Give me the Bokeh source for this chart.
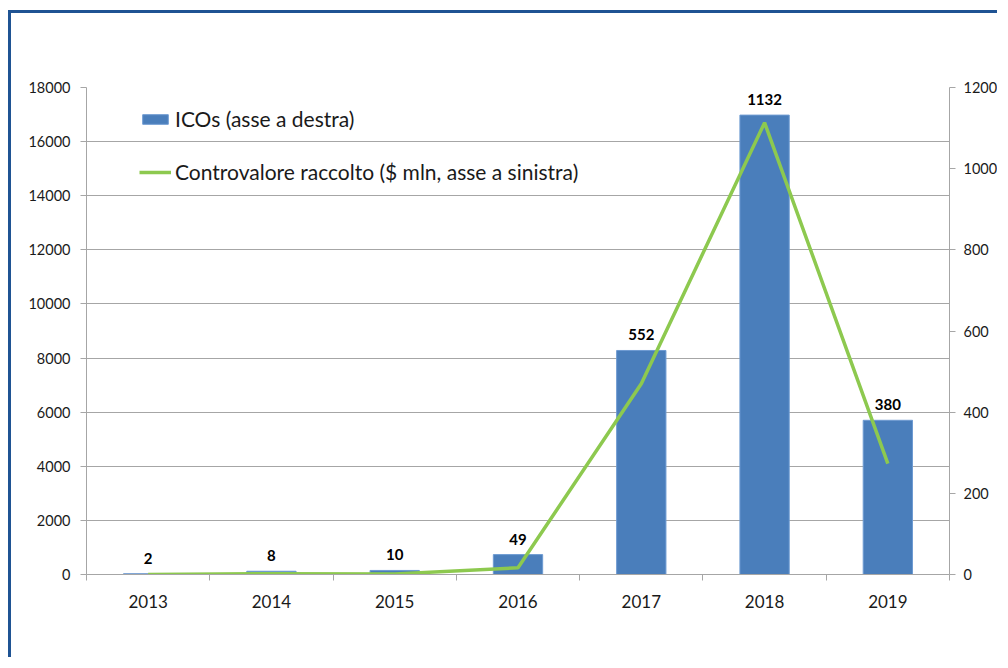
from bokeh.plotting import figure
from bokeh.layouts import column
from bokeh.models import (Range1d, LinearAxis, FixedTicker, Legend, LegendItem,
                          ColumnDataSource)
from bokeh.core.properties import value
from bokeh.embed import file_html
from bokeh.resources import INLINE

years = ["2013", "2014", "2015", "2016", "2017", "2018", "2019"]
icos = [2, 8, 10, 49, 552, 1132, 380]
raised = [0, 30, 20, 250, 7050, 16700, 4100]
left_ticks = [0, 2000, 4000, 6000, 8000, 10000, 12000, 14000, 16000, 18000]
right_ticks = [0, 200, 400, 600, 800, 1000, 1200]

FONT = "Lato"
BLUE = "#4A7EBB"
GREEN = "#8DC94F"
GRAY = "#A6A6A6"

n = len(years)
xs = [i + 0.5 for i in range(n)]
src = ColumnDataSource(dict(x=xs, year=years, icos=icos, raised=raised,
                            lab=[str(v) for v in icos]))

p = figure(width=989, height=647, output_backend="svg", toolbar_location=None,
           x_range=Range1d(0, n), y_range=Range1d(left_ticks[0], left_ticks[-1]),
           min_border_left=75, min_border_right=48, min_border_top=74,
           min_border_bottom=86)
p.styles = {"border-left": "3px solid #1F5393", "border-top": "3px solid #1F5393"}
p.outline_line_color = None
p.background_fill_color = "white"
p.border_fill_color = "white"

p.extra_y_ranges = {"right": Range1d(right_ticks[0], right_ticks[-1])}

# x axis
xax = p.xaxis[0]
xax.ticker = FixedTicker(ticks=xs, minor_ticks=list(range(n + 1)))
xax.major_label_overrides = {x: y for x, y in zip(xs, years)}
xax.major_tick_out = 0
xax.major_tick_in = 0
xax.minor_tick_out = 6
xax.minor_tick_in = 0
xax.minor_tick_line_color = GRAY
xax.axis_line_color = GRAY
xax.major_label_text_font = FONT
xax.major_label_text_font_size = "17px"
xax.major_label_text_color = "#1a1a1a"
xax.major_label_standoff = 14
p.xgrid.visible = False

# left axis
yax = p.yaxis[0]
yax.ticker = FixedTicker(ticks=left_ticks)
yax.major_tick_out = 6
yax.major_tick_in = 0
yax.minor_tick_line_color = None
yax.axis_line_color = GRAY
yax.major_tick_line_color = GRAY
yax.major_label_text_font = FONT
yax.major_label_text_font_size = "14.5px"
yax.major_label_text_color = "#1a1a1a"
yax.major_label_standoff = 10
p.ygrid.ticker = FixedTicker(ticks=left_ticks)
p.ygrid.grid_line_color = GRAY
p.ygrid.grid_line_width = 1

# right axis
rax = LinearAxis(y_range_name="right", ticker=FixedTicker(ticks=right_ticks))
rax.major_tick_out = 6
rax.major_tick_in = 0
rax.minor_tick_line_color = None
rax.axis_line_color = GRAY
rax.major_tick_line_color = GRAY
rax.major_label_text_font = FONT
rax.major_label_text_font_size = "14.5px"
rax.major_label_text_color = "#1a1a1a"
rax.major_label_standoff = 8
p.add_layout(rax, "right")

bars = p.vbar(x="x", top="icos", width=0.4, source=src, y_range_name="right",
              fill_color=BLUE, line_color="#6E9BD2", line_width=1)
ln = p.line(x="x", y="raised", source=src, line_color=GREEN, line_width=3.5)

p.text(x="x", y="icos", text="lab", source=src, y_range_name="right",
       text_align="center", text_baseline="bottom", y_offset=-10,
       text_font=value(FONT), text_font_style="bold", text_font_size="15px",
       text_color="black")

legend = Legend(items=[LegendItem(label="ICOs (asse a destra)", renderers=[bars]),
                       LegendItem(label="Controvalore raccolto ($ mln, asse a sinistra)",
                                  renderers=[ln])],
                location=(53, 390), padding=0, margin=0, spacing=28,
                glyph_width=32, glyph_height=12, label_height=23,
                label_standoff=4, label_text_font=FONT,
                label_text_font_size="21px", label_text_color="#1a1a1a",
                background_fill_alpha=0, border_line_color=None)
p.add_layout(legend)

page = column(p, styles={"padding-left": "8px", "padding-top": "10px",
                         "background-color": "white"})

open("out.html", "w").write(file_html(page, INLINE))
